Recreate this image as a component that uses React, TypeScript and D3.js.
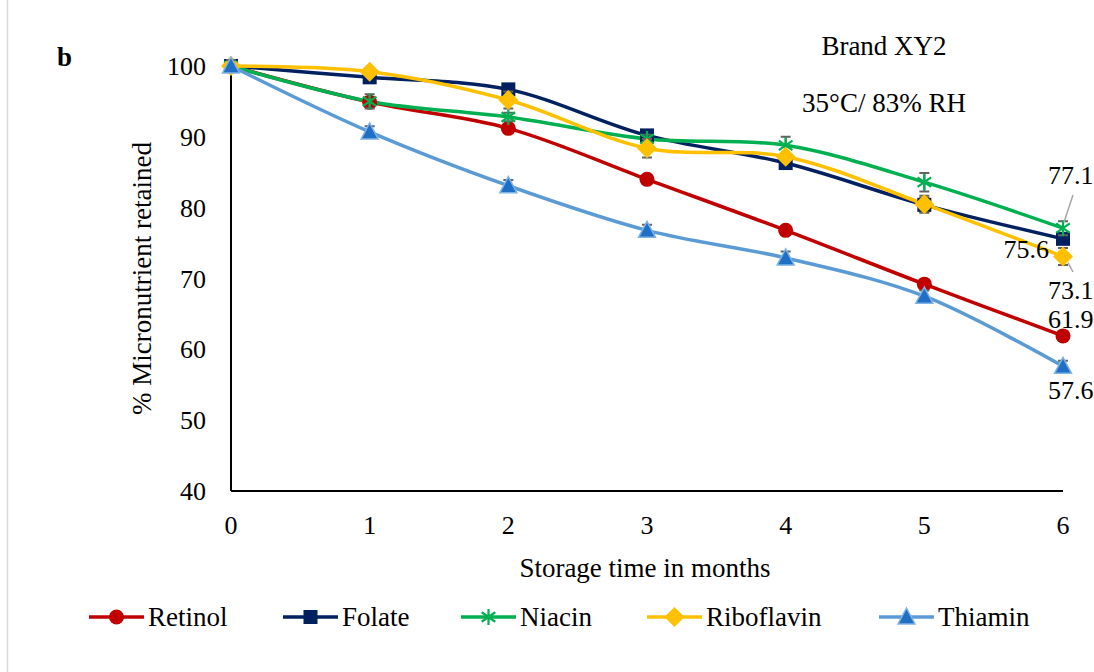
import React, { useEffect, useRef } from "react";
import * as d3 from "d3";

const months = [0, 1, 2, 3, 4, 5, 6];
const yTicks = [40, 50, 60, 70, 80, 90, 100];

const retinol = [100, 94.9, 91.2, 84.0, 76.8, 69.2, 61.9];
const folate = [100, 98.4, 96.7, 90.2, 86.3, 80.4, 75.6];
const niacin = [100, 95.0, 92.8, 89.7, 88.8, 83.6, 77.1];
const riboflavin = [100, 99.2, 95.2, 88.4, 87.2, 80.5, 73.1];
const thiamin = [100, 90.7, 83.1, 76.8, 72.9, 67.5, 57.6];

const retinolErr = [0.6, 0.7, 0.6, 0.5, 0.5, 0.5, 0.5];
const folateErr = [0.6, 0.5, 0.5, 0.5, 0.5, 1.0, 0.5];
const niacinErr = [0.6, 1.0, 0.6, 0.6, 1.2, 1.3, 1.0];
const riboErr = [0.6, 0.5, 1.2, 1.3, 0.5, 1.2, 1.2];
const thiaminErr = [0.8, 0.8, 0.8, 0.8, 0.9, 0.8, 0.8];

const series = [
  { name: "Retinol", values: retinol, err: retinolErr, color: "#C00000", marker: "circle" },
  { name: "Folate", values: folate, err: folateErr, color: "#002060", marker: "square" },
  { name: "Niacin", values: niacin, err: niacinErr, color: "#00B050", marker: "star" },
  { name: "Riboflavin", values: riboflavin, err: riboErr, color: "#FFC000", marker: "diamond" },
  { name: "Thiamin", values: thiamin, err: thiaminErr, color: "#5B9BD5", marker: "triangle" },
];

const W = 1094;
const H = 672;
const margin = { top: 66, right: 31, bottom: 181, left: 231 };
const FONT = "'Liberation Serif', 'Times New Roman', serif";

function drawMarker(g: any, kind: string, color: string, cx: number, cy: number) {
  if (kind === "circle") {
    g.append("circle").attr("cx", cx).attr("cy", cy).attr("r", 7.5).attr("fill", color);
  } else if (kind === "square") {
    g.append("rect").attr("x", cx - 7).attr("y", cy - 7).attr("width", 14).attr("height", 14)
      .attr("fill", color);
  } else if (kind === "diamond") {
    g.append("path").attr("d", `M${cx},${cy - 10}L${cx + 10},${cy}L${cx},${cy + 10}L${cx - 10},${cy}Z`)
      .attr("fill", color);
  } else if (kind === "triangle") {
    g.append("path").attr("d", `M${cx},${cy - 9}L${cx + 8.5},${cy + 7}L${cx - 8.5},${cy + 7}Z`)
      .attr("fill", "#1F6FC5").attr("stroke", "#7FB2E5").attr("stroke-width", 1.5);
  } else if (kind === "star") {
    const r = 8;
    const d = r * 0.85;
    g.append("path")
      .attr("d", `M${cx},${cy - r}L${cx},${cy + r}M${cx - d},${cy - d * 0.7}L${cx + d},${cy + d * 0.7}M${cx - d},${cy + d * 0.7}L${cx + d},${cy - d * 0.7}`)
      .attr("stroke", color).attr("stroke-width", 2.2).attr("fill", "none");
  }
}

export default function App() {
  const ref = useRef<SVGSVGElement>(null);

  useEffect(() => {
    const svg = d3.select(ref.current);
    svg.selectAll("*").remove();

    const x = d3.scaleLinear().domain([0, 6]).range([margin.left, W - margin.right]);
    const y = d3.scaleLinear().domain([40, 100]).range([H - margin.bottom, margin.top]);

    svg.append("rect").attr("width", W).attr("height", H).attr("fill", "#fff");
    svg.append("line").attr("x1", 7.5).attr("x2", 7.5).attr("y1", 0).attr("y2", H)
      .attr("stroke", "#d9d9d9").attr("stroke-width", 1.5);

    // axes (no tick marks)
    svg.append("line").attr("x1", x(0)).attr("x2", x(0)).attr("y1", y(100)).attr("y2", y(40))
      .attr("stroke", "#000").attr("stroke-width", 2);
    svg.append("line").attr("x1", x(0)).attr("x2", x(6)).attr("y1", y(40)).attr("y2", y(40))
      .attr("stroke", "#000").attr("stroke-width", 2);

    svg.append("g").selectAll("text").data(yTicks).join("text")
      .attr("x", x(0) - 25).attr("y", (d) => y(d)).attr("dy", "0.35em")
      .attr("text-anchor", "end").attr("font-family", FONT).attr("font-size", 26)
      .text((d) => d);
    svg.append("g").selectAll("text").data(months).join("text")
      .attr("x", (d) => x(d)).attr("y", y(40) + 34).attr("dy", "0.35em")
      .attr("text-anchor", "middle").attr("font-family", FONT).attr("font-size", 26)
      .text((d) => d);

    svg.append("text").attr("x", (x(0) + x(6)) / 2 - 2).attr("y", 577)
      .attr("text-anchor", "middle").attr("font-family", FONT).attr("font-size", 27)
      .text("Storage time in months");
    svg.append("text")
      .attr("transform", `translate(151,${(y(100) + y(40)) / 2}) rotate(-90)`)
      .attr("text-anchor", "middle").attr("font-family", FONT).attr("font-size", 27)
      .text("% Micronutrient retained");

    svg.append("text").attr("x", 57).attr("y", 66).attr("font-family", FONT)
      .attr("font-size", 27).attr("font-weight", "bold").text("b");
    svg.append("text").attr("x", 884).attr("y", 55).attr("text-anchor", "middle")
      .attr("font-family", FONT).attr("font-size", 27).text("Brand XY2");
    svg.append("text").attr("x", 884).attr("y", 112).attr("text-anchor", "middle")
      .attr("font-family", FONT).attr("font-size", 27).text("35°C/ 83% RH");

    const line = d3.line<number>()
      .x((_, i) => x(months[i]))
      .y((d) => y(d))
      .curve(d3.curveCatmullRom.alpha(0.5));

    const plot = svg.append("g");
    series.forEach((s) => {
      plot.append("path").attr("d", line(s.values) as string).attr("fill", "none")
        .attr("stroke", s.color).attr("stroke-width", 3.5).attr("stroke-linecap", "round");
    });
    series.forEach((s) => {
      const g = plot.append("g");
      s.values.forEach((v, i) => {
        const cx = x(months[i]);
        const e = s.err[i];
        g.append("path")
          .attr("d", `M${cx},${y(v + e)}L${cx},${y(v - e)}M${cx - 5},${y(v + e)}L${cx + 5},${y(v + e)}M${cx - 5},${y(v - e)}L${cx + 5},${y(v - e)}`)
          .attr("stroke", "#636363").attr("stroke-width", 2).attr("fill", "none");
      });
      s.values.forEach((v, i) => drawMarker(g, s.marker, s.color, x(months[i]), y(v)));
    });

    // end labels
    const lx = x(6);
    const labels = [
      { t: niacin[6].toFixed(1), x: lx - 15, y: 184, anchor: "start" },
      { t: folate[6].toFixed(1), x: lx - 14, y: 258, anchor: "end" },
      { t: riboflavin[6].toFixed(1), x: lx - 15, y: 299, anchor: "start" },
      { t: retinol[6].toFixed(1), x: lx - 15, y: 328, anchor: "start" },
      { t: thiamin[6].toFixed(1), x: lx - 15, y: 399, anchor: "start" },
    ];
    svg.append("g").selectAll("text").data(labels).join("text")
      .attr("x", (d) => d.x).attr("y", (d) => d.y).attr("text-anchor", (d) => d.anchor)
      .attr("font-family", FONT).attr("font-size", 26).text((d) => d.t);
    svg.append("line").attr("x1", lx + 10).attr("y1", 195).attr("x2", lx + 1).attr("y2", y(niacin[6]) - 6)
      .attr("stroke", "#a6a6a6").attr("stroke-width", 1.5);
    svg.append("line").attr("x1", lx + 5).attr("y1", y(riboflavin[6]) + 6).attr("x2", lx + 10).attr("y2", 272)
      .attr("stroke", "#a6a6a6").attr("stroke-width", 1.5);

    // legend
    const legendX = [89, 283, 461, 647, 879];
    const ly = 617;
    series.forEach((s, i) => {
      const g = svg.append("g");
      const x0 = legendX[i];
      g.append("line").attr("x1", x0).attr("x2", x0 + 55).attr("y1", ly).attr("y2", ly)
        .attr("stroke", s.color).attr("stroke-width", 3.5);
      drawMarker(g, s.marker, s.color, x0 + 27.5, ly);
      g.append("text").attr("x", x0 + 59).attr("y", ly).attr("dy", "0.35em")
        .attr("font-family", FONT).attr("font-size", 27).text(s.name);
    });
  }, []);

  return (
    <svg ref={ref} width={W} height={H}
      style={{ position: "absolute", left: 0, top: 0, display: "block" }} />
  );
}
